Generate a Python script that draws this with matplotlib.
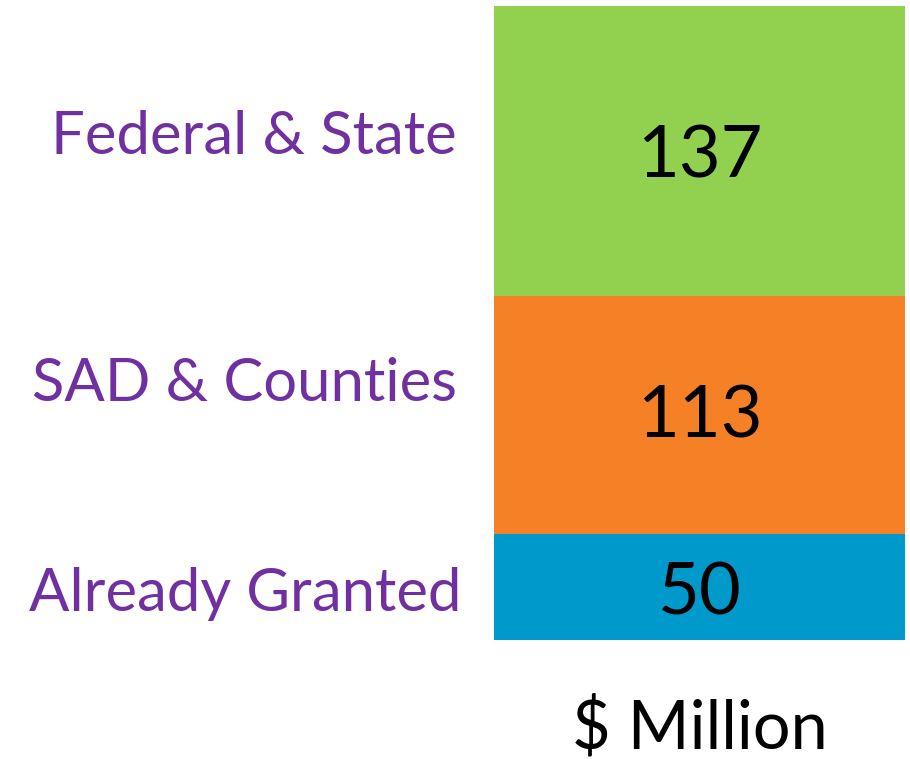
import matplotlib
matplotlib.use("Agg")
import matplotlib.pyplot as plt
from matplotlib.transforms import offset_copy

categories = ["Already Granted", "SAD & Counties", "Federal & State"]
values = [50, 113, 137]
colors = ["#0099CC", "#F58025", "#92D050"]
unit_label = "$ Million"

fig = plt.figure(figsize=(9.10, 7.59), dpi=100)
ax = fig.add_axes([494/910, (759-640)/759, (905-494)/910, (640-6)/759])

# layout offsets (pixels, up = positive) for labels relative to segment centers
label_dy = [-7, 31, 14]
label_dx = [4, 0, 0]
value_dy = [-7, -2, -6]

bottom = 0
for i, (cat, v, c) in enumerate(zip(categories, values, colors)):
    ax.bar(0, v, width=1.0, bottom=bottom, color=c, edgecolor="none")
    mid = bottom + v / 2
    tv = offset_copy(ax.transData, fig=fig, x=0, y=value_dy[i] * 0.72, units="points")
    ax.text(0, mid, str(v), ha="center", va="center", transform=tv,
            fontsize=52, color="black", family="Lato")
    tl = offset_copy(ax.transData, fig=fig, x=label_dx[i] * 0.72,
                     y=label_dy[i] * 0.72, units="points")
    ax.text(-0.59, mid, cat, ha="right", va="center", fontsize=43,
            color="#7030A0", family="Lato", transform=tl)
    bottom += v

ax.set_xlim(-0.5, 0.5)
ax.set_ylim(0, sum(values))
ax.axis("off")

fig.text(700/910, 1 - 729/759, unit_label, ha="center", va="center",
         fontsize=48, color="black", family="Lato")

fig.savefig("out.png", dpi=100)
